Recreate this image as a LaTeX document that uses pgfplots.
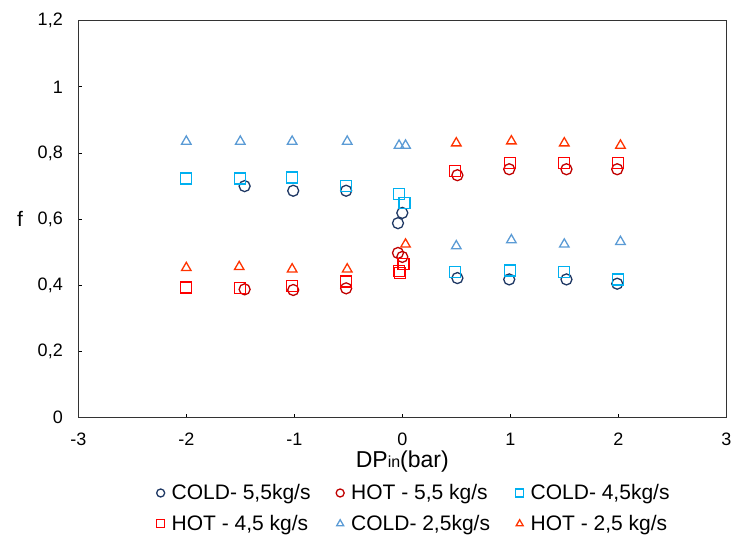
\documentclass[border=0pt]{standalone}
\usepackage{pgfplots}
\pgfplotsset{compat=1.18}
\usepackage{fontspec}
\setmainfont{Liberation Sans}

\definecolor{cnavy}{HTML}{1F3864}
\definecolor{cdred}{HTML}{C00000}
\definecolor{clblue}{HTML}{00B0F0}
\definecolor{cred}{HTML}{FF0000}
\definecolor{csteel}{HTML}{5B9BD5}
\definecolor{corange}{HTML}{FF3300}

\pgfplotsset{
  pt/.style={only marks, mark=#1, mark size=5.5pt,
    mark options={line width=1.3pt},
    legend image code/.code={\draw[##1, mark size=4pt, mark options={line width=1.3pt}] plot coordinates {(0pt,0pt)};}},
}
\newcommand{\legtxt}[1]{\makebox[167.5pt][l]{\hspace{5pt}#1}}

\begin{document}
\begin{tikzpicture}
\useasboundingbox (0,0) rectangle (735pt,535pt);
\begin{axis}[
  at={(78.3pt,117.3pt)}, anchor=south west,
  scale only axis, width=648pt, height=397pt,
  xmin=-3, xmax=3, ymin=0, ymax=1.2,
  xtick={-3,-2,-1,0,1,2,3},
  xticklabels={-3,-2,-1,0,1,2,3},
  ytick={0,0.2,0.4,0.6,0.8,1,1.2},
  yticklabels={0,{0,2},{0,4},{0,6},{0,8},1,{1,2}},
  tick align=inside, xtick pos=bottom, ytick pos=left,
  major tick length=4pt,
  tick style={black, line width=0.8pt},
  axis line style={line width=1pt, black!80},
  ticklabel style={font=\fontsize{18}{20}\selectfont},
  yticklabel style={xshift=-12pt},
  xticklabel style={yshift=-12pt},
  xlabel={DP{\fontsize{16}{16}\selectfont in}(bar)},
  xlabel style={font=\fontsize{23}{26}\selectfont, at={(axis description cs:0.5,-0.11)}, anchor=center},
  ylabel={f},
  ylabel style={font=\fontsize{21}{24}\selectfont, rotate=-90, at={(axis description cs:-0.09,0.5)}, anchor=center},
  legend columns=3,
  legend cell align=left,
  legend style={draw=none, fill=none, font=\fontsize{21}{24}\selectfont,
    at={(axis description cs:0.116,-0.158)}, anchor=north west,
    row sep=10pt},
]
\addplot[cnavy, pt=o] coordinates {
  (-1.46,0.700) (-1.01,0.686) (-0.52,0.686) (-0.04,0.588) (0.00,0.619)
  (0.51,0.422) (0.99,0.418) (1.52,0.418) (1.99,0.405)};
\addlegendentry{\legtxt{COLD- 5,5kg/s}}
\addplot[cdred, pt=o] coordinates {
  (-1.46,0.388) (-1.01,0.386) (-0.52,0.391) (-0.04,0.498) (0.00,0.486)
  (0.51,0.733) (0.99,0.751) (1.52,0.751) (1.99,0.751)};
\addlegendentry{\legtxt{HOT - 5,5 kg/s}}
\addplot[clblue, pt=square] coordinates {
  (-2.00,0.723) (-1.50,0.723) (-1.02,0.726) (-0.52,0.700) (-0.03,0.676) (0.02,0.649)
  (0.49,0.441) (1.00,0.445) (1.50,0.441) (2.00,0.418)};
\addlegendentry{\legtxt{COLD- 4,5kg/s}}
\addplot[cred, pt=square] coordinates {
  (-2.00,0.394) (-1.50,0.393) (-1.02,0.399) (-0.52,0.412) (-0.03,0.444) (-0.02,0.438) (0.01,0.464)
  (0.49,0.746) (1.00,0.770) (1.50,0.770) (2.00,0.770)};
\addlegendentry{\legtxt{HOT - 4,5 kg/s}}
\addplot[csteel, pt=triangle] coordinates {
  (-2.00,0.835) (-1.50,0.835) (-1.02,0.835) (-0.51,0.835) (-0.03,0.823) (0.03,0.823)
  (0.50,0.519) (1.01,0.537) (1.50,0.524) (2.02,0.532)};
\addlegendentry{\legtxt{COLD- 2,5kg/s}}
\addplot[corange, pt=triangle] coordinates {
  (-2.00,0.453) (-1.51,0.456) (-1.02,0.449) (-0.51,0.449) (0.03,0.524)
  (0.50,0.830) (1.01,0.836) (1.50,0.830) (2.02,0.823)};
\addlegendentry{\legtxt{HOT - 2,5 kg/s}}
\end{axis}
\end{tikzpicture}
\end{document}
